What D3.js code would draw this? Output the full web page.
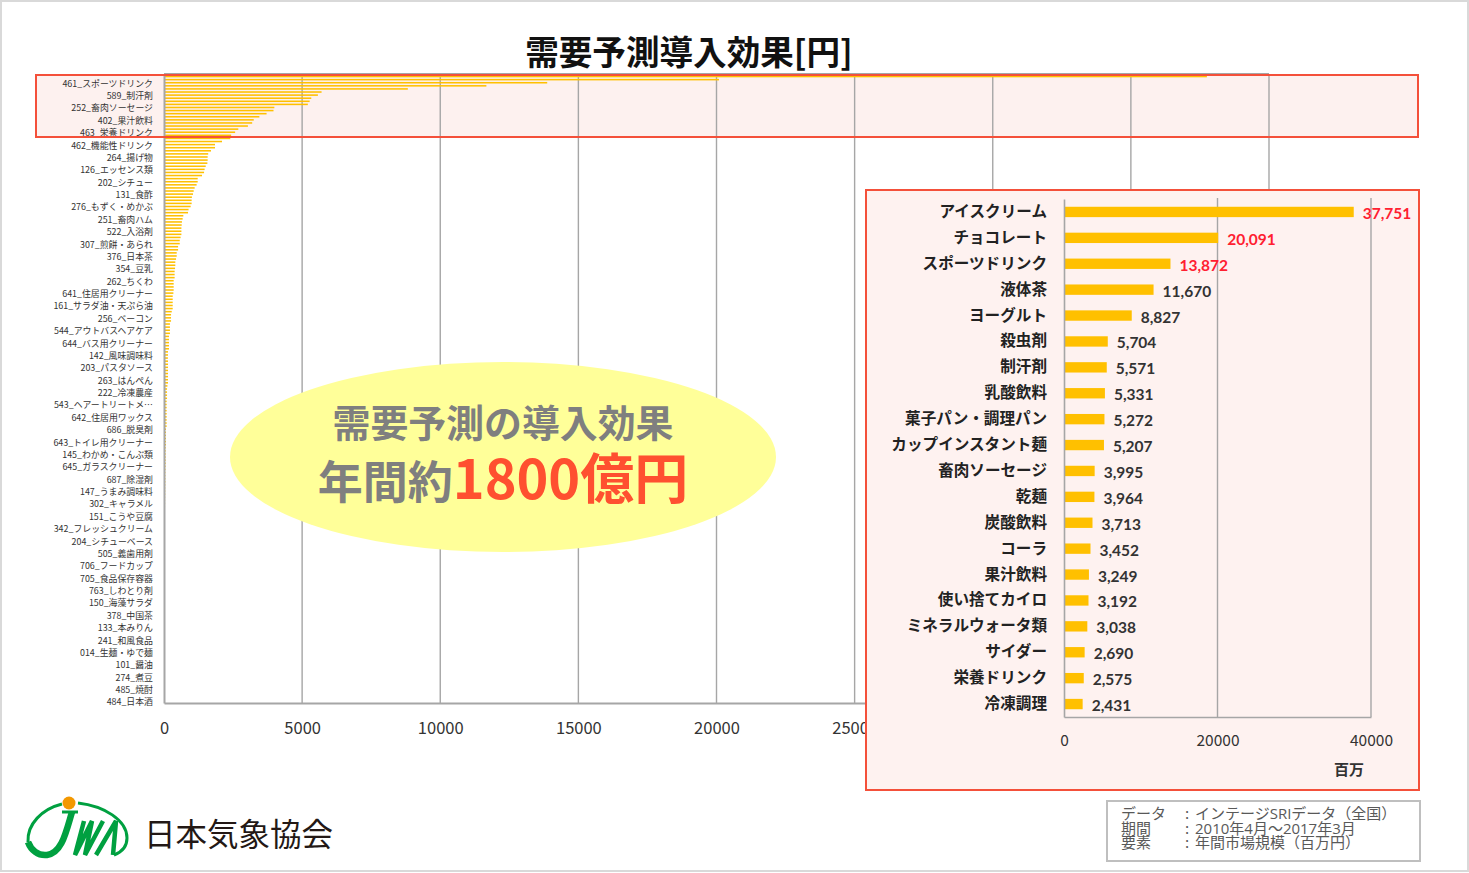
<!DOCTYPE html>
<html>
<head>
<meta charset="utf-8">
<script src="https://cdn.jsdelivr.net/npm/d3@7"></script>
<style>
  html, body { margin: 0; padding: 0; background: #fff; }
  svg { display: block; }
  text { font-family: "Noto Sans CJK JP", "Noto Sans", sans-serif; }
</style>
</head>
<body>
<svg id="chart" width="1469" height="873"></svg>
<script>
// top 20 (inset chart) ---------------------------------------------------->
var topNames = ["アイスクリーム", "チョコレート", "スポーツドリンク", "液体茶", "ヨーグルト", "殺虫剤", "制汗剤", "乳酸飲料", "菓子パン・調理パン", "カップインスタント麺", "畜肉ソーセージ", "乾麺", "炭酸飲料", "コーラ", "果汁飲料", "使い捨てカイロ", "ミネラルウォータ類", "サイダー", "栄養ドリンク", "冷凍調理"];
var topValues = [37751, 20091, 13872, 11670, 8827, 5704, 5571, 5331, 5272, 5207, 3995, 3964, 3713, 3452, 3249, 3192, 3038, 2690, 2575, 2431];
var insetTicks = [0, 20000, 40000];

// rest of the ranking
var restValues = [2400, 2100, 1846, 1846, 1700, 1600, 1580, 1580, 1570, 1510, 1470, 1450, 1375, 1220, 1220, 1180, 1110, 1075, 1050, 1010, 1000, 1000, 965, 890, 870, 700, 675, 650, 640, 630, 630, 630, 600, 570, 570, 510, 510, 460, 460, 435, 410, 410, 400, 385, 385, 385, 350, 350, 350, 350, 340, 315, 315, 315, 315, 315, 280, 255, 255, 255, 215, 215, 215, 215, 180, 180, 180, 180, 180, 145, 145, 140, 145, 145, 145, 145, 145, 145, 145, 145, 125, 110, 110, 110, 110, 96, 96, 96, 96, 96, 96, 96, 96, 96, 72, 72, 72, 72, 72, 72, 60, 60, 60, 60, 60, 60, 58, 55, 50, 50, 50, 50, 48, 45, 45, 45, 42, 40, 40, 38, 36, 35, 35, 32, 30, 30, 28, 28, 26, 25, 25, 24, 22, 22, 20, 20, 18, 18, 16, 15, 15, 14, 12, 12];

// only every 4th row has a label in the original
var rowLabels = ["461_スポーツドリンク", "589_制汗剤", "252_畜肉ソーセージ", "402_果汁飲料", "463_栄養ドリンク", "462_機能性ドリンク", "264_揚げ物", "126_エッセンス類", "202_シチュー", "131_食酢", "276_もずく・めかぶ", "251_畜肉ハム", "522_入浴剤", "307_煎餅・あられ", "376_日本茶", "354_豆乳", "262_ちくわ", "641_住居用クリーナー", "161_サラダ油・天ぷら油", "256_ベーコン", "544_アウトバスヘアケア", "644_バス用クリーナー", "142_風味調味料", "203_パスタソース", "263_はんぺん", "222_冷凍農産", "543_ヘアートリートメ…", "642_住居用ワックス", "686_脱臭剤", "643_トイレ用クリーナー", "145_わかめ・こんぶ類", "645_ガラスクリーナー", "687_除湿剤", "147_うまみ調味料", "302_キャラメル", "151_こうや豆腐", "342_フレッシュクリーム", "204_シチューベース", "505_義歯用剤", "706_フードカップ", "705_食品保存容器", "763_しわとり剤", "150_海藻サラダ", "378_中国茶", "133_本みりん", "241_和風食品", "014_生麺・ゆで麺", "101_醤油", "274_煮豆", "485_焼酎", "484_日本酒"];
var mainTicks = [0, 5000, 10000, 15000, 20000, 25000, 30000, 35000, 40000];
var rowCount = 203;

var infoKeys = ["データ", "期間", "要素"];
var infoVals = ["インテージSRIデータ（全国）", "2010年4月～2017年3月", "年間市場規模（百万円）"];

var svg = d3.select("#chart");
var grey = "#a6a6a6";
var barColor = "#FFC000";
var redLine = "#f4503a";

// outer frame
svg.append("rect").attr("x", 1).attr("y", 1).attr("width", 1467).attr("height", 870)
  .attr("fill", "#fff").attr("stroke", "#d9d9d9").attr("stroke-width", 2);

// title
svg.append("text").attr("x", 689).attr("y", 65).attr("text-anchor", "middle")
  .attr("font-size", 33.6).attr("font-weight", 700).attr("fill", "#111").text("需要予測導入効果[円]");

// pink band goes under the chart, its red outline goes on top
svg.append("rect").attr("x", 36).attr("y", 75).attr("width", 1382).attr("height", 62)
  .attr("fill", "#fdf1ef");

// big chart --------------------------------------------------------------->
var mainAll = topValues.concat(restValues);
var x = d3.scaleLinear().domain([0, 40000]).range([164, 1269]);
var y = d3.scaleBand().domain(d3.range(rowCount)).range([75, 703]).paddingInner(0.5).paddingOuter(0.25);

var main = svg.append("g");
main.selectAll("line.grid").data(mainTicks.slice(1)).join("line").attr("class", "grid")
  .attr("x1", d => x(d)).attr("x2", d => x(d)).attr("y1", 74).attr("y2", 703)
  .attr("stroke", grey).attr("stroke-width", 1.4);
main.append("line").attr("x1", 164).attr("x2", 1269).attr("y1", 74).attr("y2", 74).attr("stroke", grey).attr("stroke-width", 2);
main.selectAll("rect").data(mainAll).join("rect")
  .attr("x", x(0)).attr("y", (d, i) => y(i)).attr("width", d => x(d) - x(0)).attr("height", y.bandwidth())
  .attr("fill", barColor);

var axisB = d3.axisBottom(x).tickValues(mainTicks).tickSize(0).tickPadding(19).tickFormat(d3.format("d"));
var gB = main.append("g").attr("transform", "translate(0,703)").call(axisB);
gB.select(".domain").attr("stroke", grey).attr("stroke-width", 2);
gB.selectAll("text").attr("font-size", 16.5).attr("fill", "#333").style("font-family", '"Noto Sans CJK JP"');

var axisL = d3.axisLeft(y).tickValues(rowLabels.map((d, i) => 2 + i * 4)).tickSize(0).tickPadding(11)
  .tickFormat(d => rowLabels[(d - 2) / 4]);
var gL = main.append("g").attr("transform", "translate(164,0)").call(axisL);
gL.select(".domain").attr("stroke", grey).attr("stroke-width", 2);
gL.selectAll("text").attr("font-size", 8.9).attr("fill", "#333").attr("dy", "0.44em").style("font-family", '"Noto Sans CJK JP"');

svg.append("rect").attr("x", 36).attr("y", 75).attr("width", 1382).attr("height", 62)
  .attr("fill", "none").attr("stroke", redLine).attr("stroke-width", 2);

// oval callout
svg.append("ellipse").attr("cx", 503).attr("cy", 457).attr("rx", 273).attr("ry", 95).attr("fill", "#FFFF99");
svg.append("text").attr("x", 503).attr("y", 437).attr("text-anchor", "middle")
  .attr("font-size", 37.9).attr("font-weight", 700).attr("fill", "#7f7f7f").text("需要予測の導入効果");
var big = svg.append("text").attr("x", 503).attr("y", 499).attr("text-anchor", "middle").attr("font-weight", 700);
big.append("tspan").attr("font-size", 45).attr("fill", "#7f7f7f").text("年間約");
big.append("tspan").attr("font-size", 54).attr("fill", "#ff5030").text("1800億円");

// inset chart ------------------------------------------------------------->
svg.append("rect").attr("x", 866).attr("y", 190).attr("width", 553).attr("height", 600)
  .attr("fill", "#fef2f0").attr("stroke", redLine).attr("stroke-width", 2);

var ix = d3.scaleLinear().domain([0, 40000]).range([1064, 1371]);
var iy = d3.scaleBand().domain(topNames).range([199, 717]).paddingInner(0.6).paddingOuter(0.3);
var inset = svg.append("g");

inset.selectAll("line.grid").data(insetTicks.slice(1)).join("line").attr("class", "grid")
  .attr("x1", d => ix(d)).attr("x2", d => ix(d)).attr("y1", 198).attr("y2", 717)
  .attr("stroke", grey).attr("stroke-width", 1.4);
inset.selectAll("rect").data(topValues).join("rect")
  .attr("x", ix(0)).attr("y", (d, i) => iy(topNames[i])).attr("width", d => ix(d) - ix(0)).attr("height", iy.bandwidth())
  .attr("fill", barColor);

var iAxisB = d3.axisBottom(ix).tickValues(insetTicks).tickSize(0).tickPadding(18).tickFormat(d3.format("d"));
var igB = inset.append("g").attr("transform", "translate(0,717)").call(iAxisB);
igB.select(".domain").attr("stroke", grey).attr("stroke-width", 1.6);
igB.selectAll("text").attr("font-size", 15.5).attr("fill", "#333").style("font-family", '"Noto Sans CJK JP"');

var iAxisL = d3.axisLeft(iy).tickSize(0).tickPadding(17);
var igL = inset.append("g").attr("transform", "translate(1064,0)").call(iAxisL);
igL.select(".domain").attr("stroke", grey).attr("stroke-width", 1.6);
igL.selectAll("text").attr("font-size", 15.6).attr("font-weight", 700).attr("fill", "#222").attr("dy", "0.32em")
  .style("font-family", '"Noto Sans CJK JP"');

inset.selectAll("text.val").data(topValues).join("text").attr("class", "val")
  .attr("x", d => ix(d) + 9).attr("y", (d, i) => iy(topNames[i]) + iy.bandwidth() / 2 + 7)
  .attr("font-size", 15.5).attr("font-weight", 700)
  .attr("fill", (d, i) => i < 3 ? "#ff2030" : "#333")
  .style("font-family", "Lato")
  .text(d => d3.format(",")(d));

svg.append("text").attr("x", 1349).attr("y", 775).attr("text-anchor", "middle")
  .attr("font-size", 15).attr("font-weight", 700).attr("fill", "#333").text("百万");

// source box
svg.append("rect").attr("x", 1107).attr("y", 801).attr("width", 313).attr("height", 60)
  .attr("fill", "#fff").attr("stroke", "#bfbfbf").attr("stroke-width", 2);
svg.selectAll("text.infoK").data(infoKeys).join("text").attr("class", "infoK")
  .attr("x", 1121).attr("y", (d, i) => 819 + i * 14.5)
  .attr("font-size", 15).attr("fill", "#595959").text(d => d);
svg.selectAll("text.infoC").data(infoKeys).join("text").attr("class", "infoC")
  .attr("x", 1185).attr("y", (d, i) => 819 + i * 14.5)
  .attr("font-size", 15).attr("fill", "#595959").text(":");
svg.selectAll("text.infoV").data(infoVals).join("text").attr("class", "infoV")
  .attr("x", 1195).attr("y", (d, i) => 819 + i * 14.5)
  .attr("font-size", 15).attr("fill", "#595959")
  .style("font-family", '"Open Sans", "Noto Sans CJK JP"').text(d => d);

// logo
var logo = svg.append("g").attr("fill", "none").attr("stroke", "#00a040").attr("stroke-linejoin", "miter");
logo.append("path").attr("stroke-width", 3).attr("d", "M62,804 C42,809 27,824 28,842");
logo.append("path").attr("stroke-width", 3).attr("d", "M78,803 C104,806 127,820 127,838 C127,846 122,852 114,855");
logo.append("path").attr("stroke-width", 3).attr("d", "M62,812 L78,812");
logo.append("path").attr("stroke-width", 6.5).attr("d", "M72,812 C66,832 62,853 47,855 C38,856 31,850 28,842");
logo.append("path").attr("stroke-width", 4.5).attr("d", "M84,821 L75,855 L92,821 L85,855 L103,821");
logo.append("path").attr("stroke-width", 4.5).attr("d", "M96,855 L116,821 L113,855");
svg.append("circle").attr("cx", 69).attr("cy", 803).attr("r", 6.5).attr("fill", "#f39800");
svg.append("text").attr("x", 144).attr("y", 846).attr("font-size", 31.5).attr("fill", "#231815").text("日本気象協会");
</script>
</body>
</html>
